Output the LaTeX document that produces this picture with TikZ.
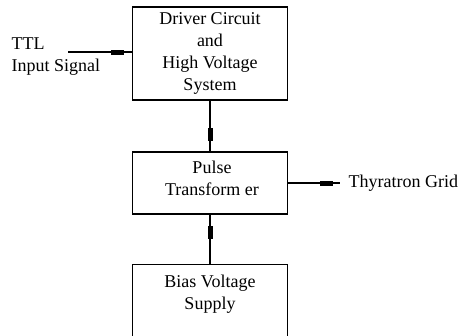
\documentclass[tikz,border=0pt]{standalone}
\usepackage{fontspec}
\setmainfont{Liberation Serif}
\usetikzlibrary{arrows.meta,decorations.markings}

\tikzset{
  blk/.style={draw,line width=1.3pt,minimum width=155pt,align=center,inner sep=0pt},
  flow/.style={line width=1.1pt,postaction=decorate,
    decoration={markings,
      mark=at position #1 with {\arrow{Rectangle[length=13pt,width=5pt]}}}},
}

\begin{document}
\begin{tikzpicture}[x=1pt,y=-1pt,font=\fontsize{18}{22}\selectfont]
  \useasboundingbox (0,0) rectangle (463,335);

  \node[blk,minimum height=93pt] (driver) at (210,53.5)
    {Driver Circuit\\and\\High Voltage\\System};
  \node[blk,minimum height=62pt] (pulse) at (210,183) {};
  \node[align=center] (pulsetext) at (212,178) {Pulse\\Transform er};
  \node[blk,minimum height=100pt,anchor=north] (bias) at (210,264) {};
  \node[align=center] (biastext) at (210,294) {Bias Voltage\\Supply};

  \node[anchor=west,align=left] (ttltext) at (8,57) {TTL\\Input Signal};
  \coordinate (ttlin) at (68,52);
  \draw[flow=0.88] (ttlin) -- (ttlin -| driver.west);

  \draw[flow=0.79] (driver) -- (pulse);
  \draw[flow=0.76] (bias) -- (pulse);

  \coordinate (grid) at (340,183);
  \draw[flow=0.87] (pulse) -- (grid);
  \node[anchor=west] (gridtext) at (345,183) {Thyratron Grid};
\end{tikzpicture}
\end{document}
